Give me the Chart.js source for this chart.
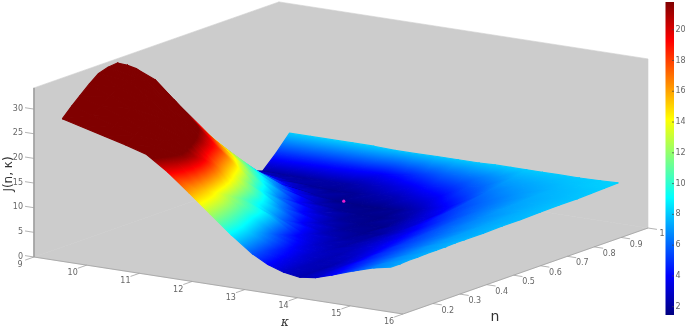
<!DOCTYPE html>
<html lang="en">
<head>
    <meta charset="UTF-8">
    <title>J(n, κ) surface</title>
    <script src="https://cdn.jsdelivr.net/npm/chart.js"></script>
    <style>
        html, body { margin: 0; padding: 0; background: #fff; }
        canvas { display: block; }
    </style>
</head>
<body>
    <canvas id="surface" width="685" height="330"></canvas>
    <script>
        // Surface samples
        const kappaValues = [9.2, 9.6, 10, 10.4, 10.8, 11.2, 11.6, 12, 12.4, 12.8, 13.1, 13.4, 13.7, 14, 14.3, 14.7, 15.1, 15.43];
        const nValues = [0.155, 0.19, 0.22, 0.255, 0.29, 0.325, 0.36, 0.395, 0.43, 0.5, 0.57, 0.64, 0.71, 0.78, 0.85, 0.9, 0.95, 1];
        const jK0920 = [27.1, 29, 30.5, 32.2, 33.7, 34.3, 34.5, 33.4, 32, 28.4, 23, 17, 11.6, 6.8, 3.3, 2.2, 4.9, 8];
        const jK0960 = [26, 27.7, 29, 30.4, 31.5, 32, 32, 30.8, 29.2, 24.5, 18.7, 13.6, 9, 5.2, 2.6, 2.1, 4.8, 8];
        const jK1000 = [24.9, 26.4, 27.6, 28.6, 29.2, 29.2, 28.7, 27.2, 25.4, 20.4, 15.8, 11.6, 7.4, 4, 2.3, 2.1, 4.6, 8];
        const jK1040 = [23.8, 25, 25.9, 26.4, 26.6, 25.8, 24.7, 23.2, 21.7, 17.3, 13, 9.2, 5.4, 3, 2, 2.2, 4.5, 8];
        const jK1080 = [22.5, 23.4, 23.9, 23.8, 23.3, 22.2, 20.9, 19.5, 18, 13.6, 9.8, 6.6, 3.9, 2.3, 1.8, 2.2, 4.3, 8];
        const jK1120 = [19.6, 20.8, 21.3, 20.8, 19.5, 17.8, 16, 14.4, 12.8, 9.3, 6.4, 4.1, 2.5, 1.7, 1.9, 2.6, 3.8, 7.8];
        const jK1160 = [16.1, 15.7, 15.2, 14.2, 13, 11.9, 10.8, 9.8, 9, 6.4, 4.2, 2.8, 1.9, 1.6, 2.3, 3.1, 4.4, 7.8];
        const jK1200 = [12.5, 12, 11.5, 10.8, 10, 9.5, 8.7, 7.2, 5.8, 3.9, 2.7, 2, 1.7, 1.6, 2.6, 3.7, 5.2, 7.9];
        const jK1240 = [8.9, 8.5, 8.1, 7.3, 6.5, 5.6, 4.8, 4.1, 3.6, 2.6, 2, 1.7, 1.6, 1.9, 3.3, 4.5, 5.9, 7.9];
        const jK1280 = [5.7, 5.4, 5, 4.6, 4.2, 3.7, 3.3, 2.9, 2.6, 2.1, 1.8, 1.7, 2.1, 2.7, 3.9, 5, 6.3, 7.9];
        const jK1310 = [4, 3.8, 3.6, 3.4, 3.1, 2.9, 2.7, 2.5, 2.3, 2.2, 2.1, 2.5, 2.9, 3.5, 4.8, 5.6, 6.5, 8];
        const jK1340 = [2.9, 2.8, 2.7, 2.6, 2.5, 2.5, 2.5, 2.6, 2.7, 2.8, 2.9, 3.2, 3.6, 4.3, 5.4, 6.1, 6.9, 8];
        const jK1370 = [2.4, 2.4, 2.4, 2.4, 2.5, 2.7, 2.9, 3.1, 3.3, 3.5, 3.8, 4.4, 5, 5.6, 6.3, 6.9, 7.4, 8];
        const jK1400 = [2.8, 3, 3.1, 3.2, 3.3, 3.5, 3.7, 3.9, 4.1, 4.4, 4.8, 5.2, 5.7, 6.1, 6.7, 7.1, 7.5, 8];
        const jK1430 = [3.8, 4, 4.2, 4.4, 4.5, 4.7, 4.8, 5, 5.1, 5.4, 5.7, 6, 6.3, 6.6, 7, 7.3, 7.6, 8];
        const jK1470 = [5.3, 5.4, 5.5, 5.6, 5.7, 5.8, 5.9, 6, 6.1, 6.3, 6.6, 6.8, 7.1, 7.3, 7.5, 7.6, 7.8, 8];
        const jK1510 = [6.6, 6.7, 6.7, 6.8, 6.8, 6.9, 7, 7, 7.1, 7.2, 7.3, 7.4, 7.5, 7.6, 7.7, 7.8, 8, 8.1];
        const jK1543 = [7.3, 7.3, 7.4, 7.4, 7.5, 7.5, 7.5, 7.6, 7.6, 7.6, 7.7, 7.7, 7.8, 7.9, 7.9, 8, 8.1, 8.2];
        const jRows = [jK0920, jK0960, jK1000, jK1040, jK1080, jK1120, jK1160, jK1200, jK1240, jK1280, jK1310, jK1340, jK1370, jK1400, jK1430, jK1470, jK1510, jK1543];

        // Minimum marked on the surface
        const minimumPoint = [11.3, 0.79, 1.7];

        // Ticks
        const kappaTicks = [9, 10, 11, 12, 13, 14, 15, 16];
        const nTicks = [0.2, 0.3, 0.4, 0.5, 0.6, 0.7, 0.8, 0.9, 1];
        const jTicks = [0, 5, 10, 15, 20, 25, 30];
        const colorTicks = [2, 4, 6, 8, 10, 12, 14, 16, 18, 20];

        // Axis limits and color limits
        const kappaLim = [9, 16];
        const nLim = [0.089, 1];
        const jTop = 34.3;
        const colorLim = [1.46, 21.8];

        // Oblique view of the box
        const view = {
            x0: 34, y0: 257,
            kx: 369 / 7, ky: 57 / 7,
            nx: 245 / 0.911, ny: -86 / 0.911,
            jy: -4.93
        };

        function project(k, n, j) {
            const dk = k - kappaLim[0];
            const dn = n - nLim[0];
            return {
                x: view.x0 + dk * view.kx + dn * view.nx,
                y: view.y0 + dk * view.ky + dn * view.ny + j * view.jy
            };
        }

        // Matlab jet
        const jetStops = [
            [0, '#000080'], [0.125, '#0000ff'], [0.375, '#00ffff'],
            [0.625, '#ffff00'], [0.875, '#ff0000'], [1, '#800000']
        ];

        function colorPos(j) {
            return (j - colorLim[0]) / (colorLim[1] - colorLim[0]);
        }

        function jetAt(t) {
            t = Math.max(0, Math.min(1, t));
            let i = 0;
            while (i < jetStops.length - 2 && t > jetStops[i + 1][0]) i++;
            const a = jetStops[i], b = jetStops[i + 1];
            const f = (t - a[0]) / (b[0] - a[0]);
            const ch = p => {
                const ca = parseInt(a[1].substr(p, 2), 16), cb = parseInt(b[1].substr(p, 2), 16);
                return Math.round(ca + (cb - ca) * f);
            };
            return 'rgb(' + ch(1) + ',' + ch(3) + ',' + ch(5) + ')';
        }

        function jetGradient(ctx, x0, y0, x1, y1) {
            const g = ctx.createLinearGradient(x0, y0, x1, y1);
            jetStops.forEach(s => g.addColorStop(s[0], s[1]));
            return g;
        }

        // The color varies linearly over a triangle, so one canvas gradient shades it.
        // Triangles seen nearly edge-on get their mean color instead.
        function triangleFill(chart, tri) {
            if (!chart.chartArea) return '#888';
            const px = tri.pts.map(p => chart.scales.x.getPixelForValue(p.x));
            const py = tri.pts.map(p => chart.scales.y.getPixelForValue(p.y));
            const t = tri.js.map(colorPos);
            const ax = px[1] - px[0], ay = py[1] - py[0];
            const bx = px[2] - px[0], by = py[2] - py[0];
            const det = ax * by - ay * bx;
            const mean = (t[0] + t[1] + t[2]) / 3;
            if (Math.abs(det) < 1e-3) return jetAt(mean);
            const dt1 = t[1] - t[0], dt2 = t[2] - t[0];
            const gx = (dt1 * by - dt2 * ay) / det;
            const gy = (dt2 * ax - dt1 * bx) / det;
            const g2 = gx * gx + gy * gy;
            if (g2 < 1e-10 || g2 > 0.04) return jetAt(mean);
            const x0 = px[0] - t[0] * gx / g2;
            const y0 = py[0] - t[0] * gy / g2;
            return jetGradient(chart.ctx, x0, y0, x0 + gx / g2, y0 + gy / g2);
        }

        function lineSet(points, color, width) {
            return {
                data: points, showLine: true, fill: false, tension: 0,
                borderColor: color, borderWidth: width, pointRadius: 0
            };
        }

        function polygonSet(points, color) {
            return {
                data: points.concat([points[0]]), showLine: true, fill: 'shape', tension: 0,
                backgroundColor: color, borderColor: color, borderWidth: 0.6, pointRadius: 0
            };
        }

        // Listed back to front, reversed at the end because Chart.js paints the last dataset first
        const layers = [];

        const [kA, kB] = kappaLim;
        const [nA, nB] = nLim;
        const wallGrey = '#cccccc';
        layers.push(polygonSet([project(kA, nA, 0), project(kB, nA, 0), project(kB, nB, 0), project(kA, nB, 0)], wallGrey));
        layers.push(polygonSet([project(kA, nA, 0), project(kA, nB, 0), project(kA, nB, jTop), project(kA, nA, jTop)], wallGrey));
        layers.push(polygonSet([project(kA, nB, 0), project(kB, nB, 0), project(kB, nB, jTop), project(kA, nB, jTop)], wallGrey));

        // Box edges next to the ticks
        const edgeGrey = '#a0a0a0';
        layers.push(lineSet([project(kA, nA, jTop), project(kA, nA, 0), project(kB, nA, 0), project(kB, nB, 0)], edgeGrey, 0.8));

        // Tick marks
        jTicks.forEach(j => layers.push(lineSet([project(kA, nA, j), project(kA - 0.17, nA, j)], edgeGrey, 0.8)));
        kappaTicks.forEach(k => layers.push(lineSet([project(k, nA, 0), project(k, nA - 0.033, 0)], edgeGrey, 0.8)));
        nTicks.forEach(n => layers.push(lineSet([project(kB, n, 0), project(kB + 0.17, n, 0)], edgeGrey, 0.8)));

        function triangleSet(a, b, c) {
            const tri = { pts: [a.p, b.p, c.p], js: [a.j, b.j, c.j] };
            const shade = ctx => triangleFill(ctx.chart, tri);
            // stroke wide enough that nothing behind shows through the shared edges
            return {
                data: [a.p, b.p, c.p, a.p], showLine: true, fill: 'shape', tension: 0,
                backgroundColor: shade, borderColor: shade, borderWidth: 1.2,
                borderJoinStyle: 'round', pointRadius: 0
            };
        }

        function vertex(i, j) {
            return { p: project(kappaValues[i], nValues[j], jRows[i][j]), j: jRows[i][j] };
        }

        // Surface cells, far corner (low kappa, high n) first
        for (let i = 0; i < kappaValues.length - 1; i++) {
            for (let j = nValues.length - 2; j >= 0; j--) {
                const a = vertex(i, j), b = vertex(i, j + 1), c = vertex(i + 1, j + 1), d = vertex(i + 1, j);
                layers.push(triangleSet(a, b, c));
                layers.push(triangleSet(a, c, d));
            }
        }

        layers.push({
            data: [project(minimumPoint[0], minimumPoint[1], minimumPoint[2])],
            showLine: false, pointRadius: 1.6, pointBorderWidth: 0,
            pointBackgroundColor: '#e81fd0'
        });

        // Colorbar, on its own value scale
        const barX = [665.5, 674];
        const colorBar = polygonSet([
            { x: barX[0], y: colorLim[0] }, { x: barX[1], y: colorLim[0] },
            { x: barX[1], y: colorLim[1] }, { x: barX[0], y: colorLim[1] }
        ], ctx => {
            const chart = ctx.chart;
            if (!chart.chartArea) return '#888';
            const s = chart.scales.cb;
            return jetGradient(chart.ctx, 0, s.getPixelForValue(colorLim[0]), 0, s.getPixelForValue(colorLim[1]));
        });
        colorBar.yAxisID = 'cb';
        colorBar.borderWidth = 0;
        layers.push(colorBar);
        colorTicks.forEach(c => {
            const tick = lineSet([{ x: barX[1] - 2, y: c }, { x: barX[1], y: c }], '#444', 0.7);
            tick.yAxisID = 'cb';
            layers.push(tick);
        });

        // Tick labels and axis titles
        const axisText = {
            id: 'axisText',
            afterDraw(chart) {
                const ctx = chart.ctx;
                const sx = chart.scales.x, sy = chart.scales.y;
                const put = (text, p, dx, dy, align) => {
                    ctx.textAlign = align;
                    ctx.fillText(text, sx.getPixelForValue(p.x) + dx, sy.getPixelForValue(p.y) + dy);
                };
                ctx.save();
                ctx.textBaseline = 'middle';
                ctx.fillStyle = '#666';
                ctx.font = '8px "DejaVu Sans"';
                jTicks.forEach(j => put(String(j), project(kA, nA, j), -11, -0.5, 'right'));
                kappaTicks.forEach(k => put(String(k), project(k, nA, 0), -14, 8, 'center'));
                nTicks.forEach(n => put(String(n), project(kB, n, 0), n === 1 ? 14 : 15, n === 1 ? 5.5 : 7, 'center'));
                colorTicks.forEach(c => {
                    ctx.textAlign = 'left';
                    ctx.fillText(String(c), 675.5, chart.scales.cb.getPixelForValue(c));
                });

                ctx.fillStyle = '#333';
                ctx.textAlign = 'center';
                ctx.font = '14px "DejaVu Sans"';
                ctx.fillText('n', 495, 317);
                ctx.font = 'italic 12px "DejaVu Serif"';
                ctx.fillText('κ', 285, 323);
                ctx.save();
                ctx.translate(9, 174);
                ctx.rotate(-Math.PI / 2);
                ctx.font = '12px "DejaVu Sans"';
                ctx.fillText('J(n, κ)', 0, 0);
                ctx.restore();
                ctx.restore();
            }
        };

        new Chart(document.getElementById('surface'), {
            type: 'scatter',
            data: { datasets: layers.reverse() },
            plugins: [axisText],
            options: {
                responsive: false,
                animation: false,
                events: [],
                layout: { padding: 0, autoPadding: false },
                plugins: { legend: { display: false }, tooltip: { enabled: false } },
                scales: {
                    x: { type: 'linear', min: 0, max: 685, display: false },
                    y: { type: 'linear', min: 0, max: 330, reverse: true, display: false },
                    cb: { type: 'linear', min: 0.486, max: 21.93, display: false, position: 'right' }
                }
            }
        });
    </script>
</body>
</html>
